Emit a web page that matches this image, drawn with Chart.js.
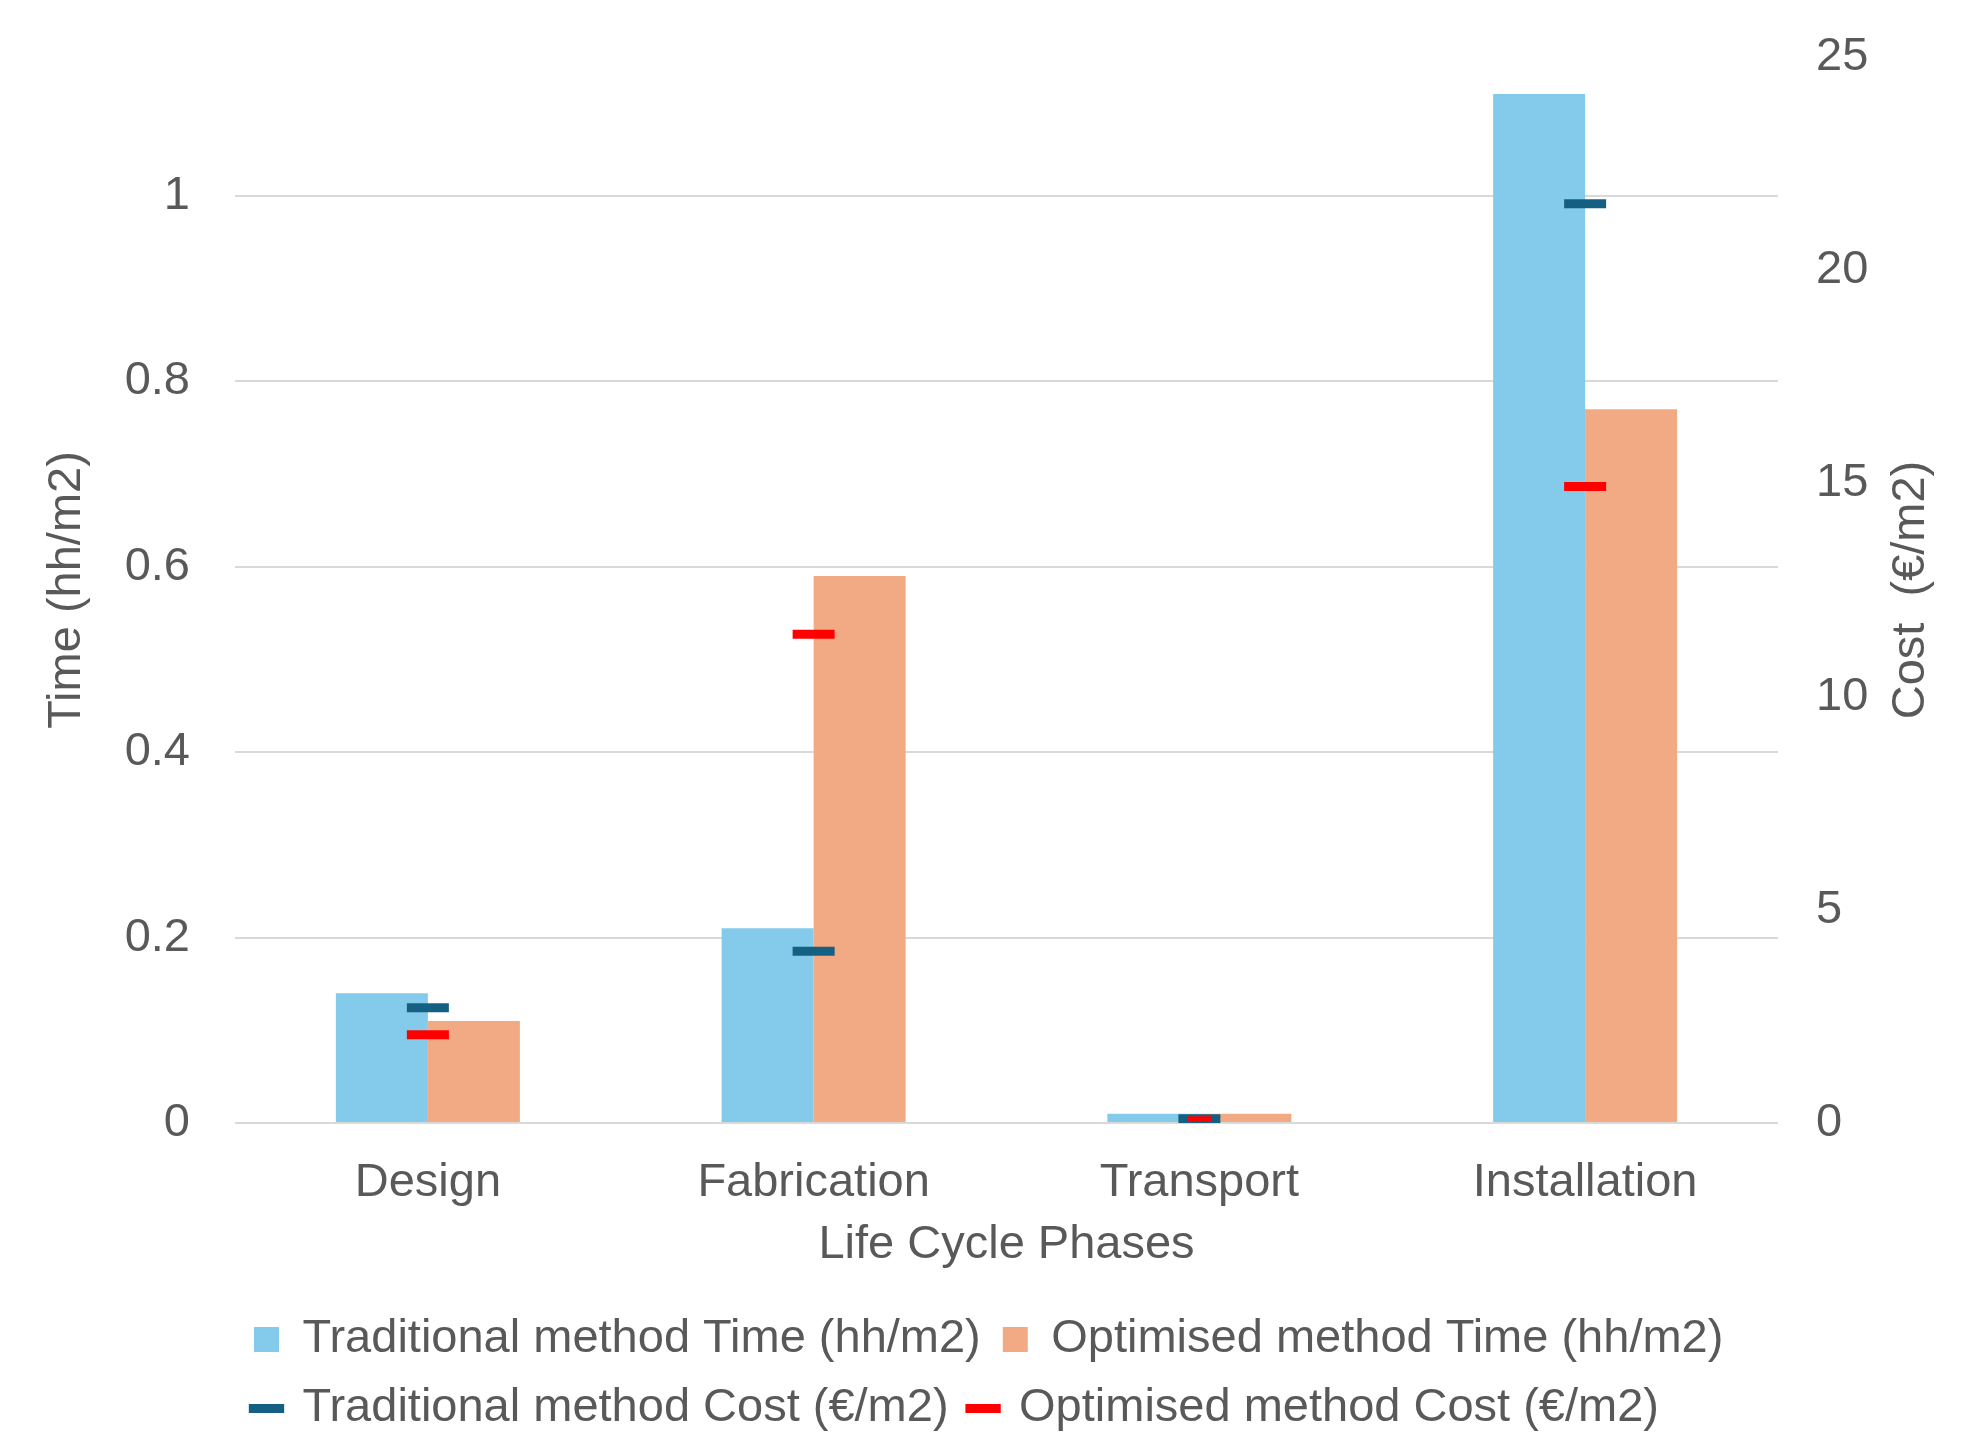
<!DOCTYPE html>
<html>
<head>
<meta charset="utf-8">
<script src="https://cdn.jsdelivr.net/npm/chart.js@4.4.1/dist/chart.umd.min.js"></script>
<style>
  html, body { margin: 0; padding: 0; background: #FFFFFF; }
  #wrap { width: 1980px; height: 1432px; position: relative; }
</style>
</head>
<body>
<div id="wrap"><canvas id="chart"></canvas></div>
<script>
// Data
const phases = ['Design', 'Fabrication', 'Transport', 'Installation'];
const tradTime = [0.14, 0.21, 0.01, 1.11];   // hh/m2
const optTime = [0.11, 0.59, 0.01, 0.77];    // hh/m2
const tradCost = [2.7, 4.03, 0.1, 21.56];    // €/m2
const optCost = [2.07, 11.46, 0.1, 14.93];   // €/m2
const timeTicks = [0, 0.2, 0.4, 0.6, 0.8, 1];
const costTicks = [0, 5, 10, 15, 20, 25];

const TEXT = '#595959';
const FONT = "'Liberation Sans', Arial, sans-serif";
const SIZE = 47;

// Right axis title reads bottom-to-top, so draw it ourselves
const rightTitle = {
    id: 'rightTitle',
    afterDraw(chart) {
        const a = chart.chartArea;
        const ctx = chart.ctx;
        ctx.save();
        ctx.translate(1911, (a.top + a.bottom) / 2);
        ctx.rotate(-Math.PI / 2);
        ctx.font = SIZE + 'px ' + FONT;
        ctx.fillStyle = TEXT;
        ctx.textAlign = 'center';
        ctx.textBaseline = 'middle';
        ctx.fillText('Cost  (€/m2)', 0, 0);
        ctx.restore();
    }
};

// Legend rows start under the plot like the Excel legend
const legendShift = {
    id: 'legendShift',
    afterLayout(chart) {
        if (chart.legend) chart.legend.left = 232;
    }
};

// Keep tick label overflow from pushing the plot area around
const noScalePad = s => { s.paddingTop = 0; s.paddingBottom = 0; };

new Chart(document.getElementById('chart'), {
    data: {
        labels: phases,
        datasets: [
            {
                type: 'bar', label: 'Traditional method Time (hh/m2)', data: tradTime, yAxisID: 'y',
                backgroundColor: '#83CAEB', borderWidth: 0, pointStyle: 'rect', order: 2,
                categoryPercentage: 0.477, barPercentage: 1
            },
            {
                type: 'bar', label: 'Optimised method Time (hh/m2)', data: optTime, yAxisID: 'y',
                backgroundColor: '#F1AA84', borderWidth: 0, pointStyle: 'rect', order: 3,
                categoryPercentage: 0.477, barPercentage: 1
            },
            {
                type: 'line', label: 'Traditional method Cost (€/m2)', data: tradCost, yAxisID: 'y1',
                showLine: false, borderColor: '#156082', backgroundColor: '#156082', borderWidth: 5,
                pointStyle: 'line', pointRadius: 21, pointBorderWidth: 9, order: 1
            },
            {
                type: 'line', label: 'Optimised method Cost (€/m2)', data: optCost, yAxisID: 'y1',
                showLine: false, borderColor: '#FF0000', backgroundColor: '#FF0000', borderWidth: 5,
                pointStyle: 'line', pointRadius: [21, 21, 12, 21], pointBorderWidth: [9, 9, 5, 9], order: 0
            }
        ]
    },
    options: {
        responsive: true,
        maintainAspectRatio: false,
        animation: false,
        devicePixelRatio: 1,
        layout: { padding: { left: 39, right: 0, top: 57, bottom: -10 } },
        plugins: {
            tooltip: { enabled: false },
            legend: {
                position: 'bottom',
                align: 'start',
                labels: {
                    usePointStyle: true,
                    boxWidth: 25,
                    boxHeight: 25,
                    padding: 22,
                    color: TEXT,
                    font: { family: FONT, size: SIZE },
                    sort: (a, b) => a.datasetIndex - b.datasetIndex
                }
            }
        },
        scales: {
            x: {
                afterFit: s => { s.height = 171; s.paddingLeft = 0; s.paddingRight = 0; },
                grid: { display: false },
                border: { display: false },
                ticks: { color: TEXT, font: { family: FONT, size: SIZE }, padding: 24 },
                title: { display: true, text: 'Life Cycle Phases', color: TEXT, font: { family: FONT, size: SIZE }, padding: { top: 0, bottom: 21 } }
            },
            y: {
                position: 'left',
                min: 0, max: 1.15,
                afterBuildTicks: s => { s.ticks = timeTicks.map(v => ({ value: v })); },
                afterFit: s => { s.width = 196; noScalePad(s); },
                grid: { color: '#D9D9D9', lineWidth: 2, drawTicks: false },
                border: { display: false },
                ticks: {
                    color: TEXT, font: { family: FONT, size: SIZE }, padding: 45,
                    callback: v => String(Math.round(v * 10) / 10)
                },
                title: { display: true, text: 'Time (hh/m2)', color: TEXT, font: { family: FONT, size: SIZE }, padding: 0 }
            },
            y1: {
                position: 'right',
                min: 0, max: 25,
                afterBuildTicks: s => { s.ticks = costTicks.map(v => ({ value: v })); },
                afterFit: s => { s.width = 202; noScalePad(s); },
                grid: { display: false, drawTicks: false },
                border: { display: false },
                ticks: { color: TEXT, font: { family: FONT, size: SIZE }, padding: 38 }
            }
        }
    },
    plugins: [rightTitle, legendShift]
});
</script>
</body>
</html>
